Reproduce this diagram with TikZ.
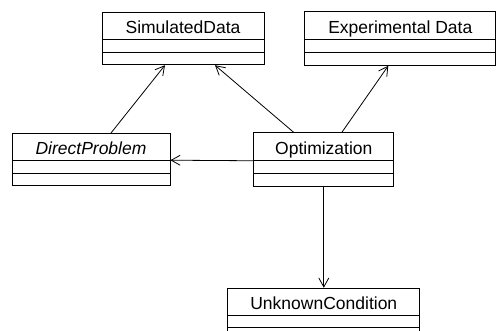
\documentclass[tikz,border=0pt]{standalone}
\usepackage{fontspec}
\setmainfont{Liberation Sans}
\usetikzlibrary{positioning,shapes.multipart,arrows.meta}

\tikzset{
  cls/.style={rectangle split, rectangle split parts=3, draw,
    inner xsep=3pt, inner ysep=2.5pt,
    rectangle split empty part height=7pt, rectangle split empty part depth=0pt,
    font=\fontsize{17.5}{21}\selectfont,
    execute at begin node={\rule[-2.5pt]{0pt}{21pt}}},
}

\begin{document}
\begin{tikzpicture}[anchor=north, line width=0.8pt, >={Straight Barb[length=9pt,width=10pt]}]
\useasboundingbox (0,0) rectangle (496pt,-331pt);
\node[cls, minimum width=162pt] (sim) at (183pt,-12pt) {SimulatedData};
\node[cls, minimum width=191pt, right=40pt of sim] (exp) {Experimental Data};
\node[cls, minimum width=158pt] (dp) at (91pt,-133pt) {\textit{DirectProblem}};
\node[cls, minimum width=140pt, right=83pt of dp] (opt) {Optimization};
\node[cls, minimum width=192pt, below=101pt of opt] (unk) {UnknownCondition};
\draw[->] ([xshift=20pt]dp.north) -- ([xshift=-18pt]sim.south);
\draw[->] ([xshift=-30pt]opt.north) -- ([xshift=32pt]sim.south);
\draw[->] ([xshift=18pt]opt.north) -- ([xshift=-12pt]exp.south);
\draw[->] (opt.one split west) -- (dp.one split east);
\draw[->] (opt.south) -- (unk.north);
\end{tikzpicture}
\end{document}
